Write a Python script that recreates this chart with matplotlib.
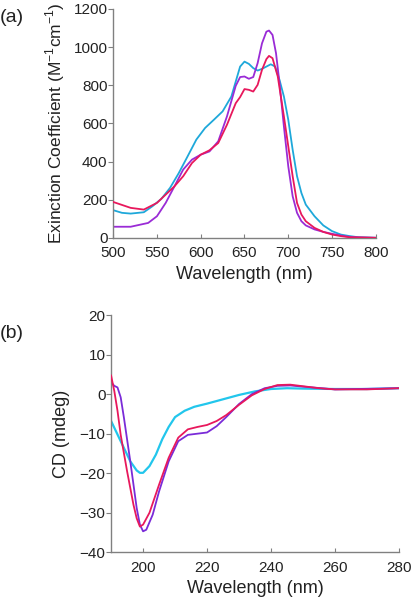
import matplotlib
matplotlib.use("Agg")
import matplotlib.pyplot as plt

plt.rcParams['font.family'] = ['Liberation Sans', 'DejaVu Sans']

# Panel (a) absorption
wl_red_a = [500, 520, 535, 550, 570, 580, 590, 600, 610, 620, 630, 640, 645, 650, 655, 660, 665, 670, 675, 678, 682, 688, 695, 700, 705, 710, 715, 720, 730, 740, 750, 760, 770, 780, 800]
ext_red = [188, 157, 148, 183, 270, 323, 392, 436, 459, 497, 593, 706, 738, 780, 776, 767, 802, 881, 937, 954, 942, 846, 637, 480, 323, 183, 122, 87, 52, 31, 17, 9, 3, 2, 0]

wl_pur_a = [500, 520, 540, 550, 560, 570, 580, 590, 600, 610, 620, 630, 640, 645, 650, 655, 660, 665, 670, 675, 678, 682, 686, 690, 695, 700, 705, 710, 715, 720, 730, 740, 750, 760, 770, 780, 800]
ext_pur = [58, 58, 78, 113, 183, 270, 358, 410, 436, 453, 506, 637, 797, 843, 846, 834, 843, 916, 1020, 1081, 1087, 1064, 968, 811, 584, 375, 218, 131, 87, 65, 44, 31, 21, 12, 5, 2, 0]

wl_cya_a = [500, 510, 520, 535, 545, 555, 565, 575, 585, 595, 605, 615, 625, 635, 645, 650, 655, 660, 665, 670, 675, 680, 685, 690, 695, 700, 705, 710, 715, 720, 730, 740, 750, 760, 770, 780, 800]
ext_cya = [145, 131, 127, 134, 166, 204, 262, 340, 427, 515, 576, 619, 663, 741, 898, 924, 912, 890, 877, 886, 898, 910, 898, 828, 741, 619, 462, 323, 235, 174, 113, 65, 35, 17, 9, 3, 0]

# Panel (b) CD
wl_red_b = [190, 191, 192, 193, 195, 197, 198, 199, 200, 202, 205, 208, 211, 214, 217, 220, 223, 226, 230, 234, 238, 242, 246, 250, 255, 260, 270, 280]
cd_red = [4.7, 0.8, -4.2, -10.3, -19.5, -28.0, -31.4, -33.5, -33.0, -30.0, -22.9, -16.1, -11.0, -8.9, -8.3, -7.8, -6.8, -5.3, -2.7, -0.3, 1.3, 2.3, 2.4, 2.0, 1.5, 1.2, 1.2, 1.5]

wl_pur_b = [190, 191, 192, 193, 194, 196, 198, 199, 200, 201, 203, 205, 208, 211, 214, 217, 220, 223, 226, 230, 234, 238, 242, 246, 250, 260, 280]
cd_pur = [3.0, 2.1, 1.7, -0.8, -5.9, -17.0, -28.8, -33.0, -34.7, -34.3, -30.5, -24.6, -17.0, -11.9, -10.3, -10.0, -9.7, -8.1, -5.8, -2.5, 0.0, 1.5, 2.1, 2.2, 1.9, 1.2, 1.5]

wl_cya_b = [190, 192, 194, 196, 198, 199, 200, 202, 204, 206, 208, 210, 213, 216, 220, 225, 230, 235, 240, 245, 250, 260, 270, 280]
cd_cya = [-6.8, -10.2, -13.6, -17.0, -19.3, -19.9, -19.9, -18.2, -15.3, -11.4, -8.3, -5.8, -4.2, -3.2, -2.4, -1.3, -0.2, 0.7, 1.3, 1.5, 1.4, 1.3, 1.3, 1.5]

xticks_a = [500, 550, 600, 650, 700, 750, 800]
yticks_a = [0, 200, 400, 600, 800, 1000, 1200]
xticks_b = [200, 220, 240, 260, 280]
yticks_b = [-40, -30, -20, -10, 0, 10, 20]

c_red = '#E8185C'
c_pur = '#9A2BD6'
c_cya_a = '#1EA8DA'
c_pur_b = '#7A2BD8'
c_cya_b = '#22C6EC'

fig = plt.figure(figsize=(4.13, 5.99), dpi=100)
ax1 = fig.add_axes([0.274, 0.603, 0.636, 0.382])
ax2 = fig.add_axes([0.269, 0.078, 0.697, 0.396])

lw = 1.3
ax1.plot(wl_red_a, ext_red, color=c_red, lw=lw, zorder=3)
ax1.plot(wl_pur_a, ext_pur, color=c_pur, lw=lw, zorder=2)
ax1.plot(wl_cya_a, ext_cya, color=c_cya_a, lw=lw, zorder=1)

ax2.plot(wl_cya_b, cd_cya, color=c_cya_b, lw=1.6, zorder=1)
ax2.plot(wl_pur_b, cd_pur, color=c_pur_b, lw=lw, zorder=2)
ax2.plot(wl_red_b, cd_red, color=c_red, lw=lw, zorder=3)

ax1.set_xlim(500, 800)
ax1.set_ylim(0, 1200)
ax1.set_xticks(xticks_a)
ax1.set_yticks(yticks_a)
ax2.set_xlim(190, 280)
ax2.set_ylim(-40, 20)
ax2.set_xticks(xticks_b)
ax2.set_yticks(yticks_b)

for ax in (ax1, ax2):
    for s in ('top', 'right'):
        ax.spines[s].set_visible(False)
    for s in ('left', 'bottom'):
        ax.spines[s].set_color('#808080')
        ax.spines[s].set_linewidth(1.0)
    ax.tick_params(axis='y', direction='out', length=3.5, width=0.8, color='#808080',
                   labelsize=11, labelcolor='#222222', pad=0.5)
    ax.tick_params(axis='x', direction='in', length=3, width=0.8, color='#808080',
                   labelsize=11, labelcolor='#222222', pad=6)

ax1.set_xlabel('Wavelength (nm)', fontsize=13, color='#222222', labelpad=4)
ax1.set_ylabel('Exinction Coefficient (M$^{\\mathregular{-1}}$cm$^{\\mathregular{-1}}$)', fontsize=12.5, color='#222222', labelpad=5)
ax2.set_xlabel('Wavelength (nm)', fontsize=13, color='#222222', labelpad=4)
ax2.set_ylabel('CD (mdeg)', fontsize=13, color='#222222', labelpad=7)

fig.text(0.0, 0.970, '(a)', fontsize=14, color='#222222', va='center', ha='left')
fig.text(0.0, 0.443, '(b)', fontsize=14, color='#222222', va='center', ha='left')

fig.savefig('out.png', dpi=100)
